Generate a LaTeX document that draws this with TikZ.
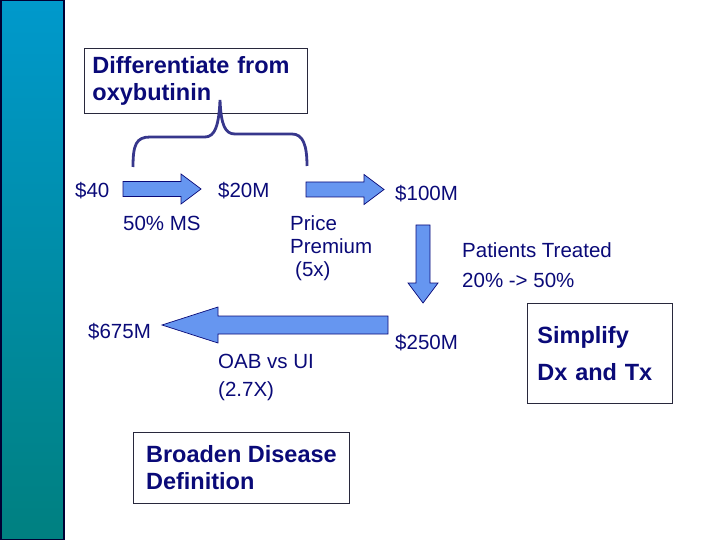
\documentclass[tikz,border=0pt]{standalone}
\usepackage{fontspec}
\setmainfont{Liberation Sans}
\usetikzlibrary{positioning}
\definecolor{navytext}{RGB}{10, 10, 120}
\definecolor{arrowfill}{RGB}{102, 150, 240}
\definecolor{bracecol}{RGB}{55, 55, 140}
\definecolor{bartop}{RGB}{0, 153, 204}
\definecolor{barbottom}{RGB}{0, 128, 128}
\definecolor{boxline}{RGB}{40, 40, 60}

\begin{document}
\begin{tikzpicture}[x=1pt, y=-1pt,
    lbl/.style={anchor=base west, inner sep=0pt, text=navytext, align=left, font=\fontsize{20.5}{24}\selectfont},
    goalbox/.style={draw=boxline, line width=0.8pt, text=navytext, align=left, anchor=north west, inner ysep=0pt, font=\bfseries\fontsize{23.5}{27}\selectfont},
    fatarrow/.style={fill=arrowfill, draw=navytext, line width=0.7pt, line join=miter}]
        \useasboundingbox (0,0) rectangle (720,540);

        % Side bar
        \shade[top color=bartop, bottom color=barbottom] (0,0) rectangle (64,540);
        \draw[line width=1.5pt, color=black!80!blue] (0.75,0.75) rectangle (64,539.25);

        % Goal boxes
        \node[goalbox, text width=207pt, inner xsep=8pt, minimum height=65pt] (diff) at (84,48) {Differentiate from\\oxybutinin};
        \node[goalbox, text width=125pt, inner xsep=10pt, minimum height=100pt, font=\bfseries\fontsize{23.5}{37}\selectfont] (simp) at (527,303) {Simplify\\Dx and Tx};
        \node[goalbox, minimum width=216pt, minimum height=71pt] (broad) at (133,432) {Broaden Disease\\Definition};

        % Brace under the first box
        \draw[bracecol, line width=2.8pt] (133,167) .. controls (133,145) and (136,137) .. (150,137) -- (205,137)
            .. controls (215,137) and (219,125) .. (220,100)
            .. controls (221,125) and (225,134) .. (235,134) -- (292,134)
            .. controls (303,134) and (307,145) .. (307,166);

        % Block arrows to the right
        \foreach \xa/\xh/\xb/\yc in {123/181/201/189, 306/364/384/189.5} {
            \draw[fatarrow] (\xa,\yc-7.5) -- (\xh,\yc-7.5) -- (\xh,\yc-15) -- (\xb,\yc) -- (\xh,\yc+15) -- (\xh,\yc+7.5) -- (\xa,\yc+7.5) -- cycle;
        }
        % Block arrow down
        \draw[fatarrow] (416,225) -- (430,225) -- (430,283) -- (438,283) -- (423,303) -- (408,283) -- (416,283) -- cycle;
        % Block arrow to the left
        \draw[fatarrow] (388,316) -- (218,316) -- (218,307) -- (162,325) -- (218,343) -- (218,334) -- (388,334) -- cycle;

        % Values
        \node[lbl] (v40) at (75,198) {\$40};
        \node[lbl] (v20) at (218,198) {\$20M};
        \node[lbl] (v100) at (395,201) {\$100M};
        \node[lbl] (v250) at (395,349) {\$250M};
        \node[lbl] (v675) at (88,338) {\$675M};

        % Drivers (base = last line)
        \node[lbl] (share) at (123,230) {50\% MS};
        \node[lbl, font=\fontsize{20.5}{23}\selectfont] (price) at (290,276) {Price\\Premium\\\hspace*{5pt}(5x)};
        \node[lbl, font=\fontsize{20.5}{29}\selectfont] (treated) at (462,287) {Patients Treated\\20\% -> 50\%};
        \node[lbl, font=\fontsize{20.5}{28}\selectfont] (oab) at (218,396) {OAB vs UI\\(2.7X)};
\end{tikzpicture}
\end{document}
